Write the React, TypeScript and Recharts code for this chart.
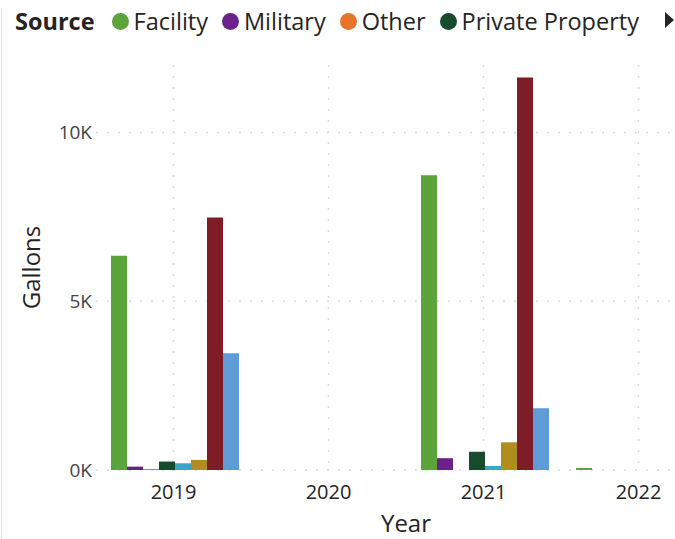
import { BarChart, Bar, XAxis, YAxis, CartesianGrid, Label } from "recharts";

const years = ["2019", "2020", "2021", "2022"];

const sources = [
  "Facility",
  "Military",
  "Other",
  "Private Property",
  "Public Property",
  "Road",
  "Residential",
  "Vessel",
];

const colors = [
  "#5ba33b",
  "#6b208c",
  "#e8742a",
  "#164b2e",
  "#3aa6c6",
  "#b08d1f",
  "#7e1d27",
  "#5f9bd6",
];

const facility = [6350, null, 8730, 60];
const military = [100, null, 350, null];
const other = [30, null, null, null];
const privateProperty = [250, null, 540, null];
const publicProperty = [200, null, 120, null];
const road = [300, null, 820, null];
const residential = [7480, null, 11630, null];
const vessel = [3460, null, 1830, null];

const yTicks = [0, 5000, 10000];

const series = [facility, military, other, privateProperty, publicProperty, road, residential, vessel];

const data = years.map((year, i) => {
  const row: Record<string, string | number | null> = { year };
  sources.forEach((s, k) => {
    row[s] = series[k][i];
  });
  return row;
});

const font = "'Open Sans', sans-serif";

const LegendBar = () => (
  <div
    style={{
      position: "absolute",
      left: 15,
      top: 5,
      height: 32,
      display: "flex",
      alignItems: "center",
      fontFamily: font,
      fontSize: 23.5,
      color: "#252423",
      whiteSpace: "nowrap",
    }}
  >
    <span style={{ fontWeight: 700, marginRight: 17 }}>Source</span>
    {sources.slice(0, 4).map((s, i) => (
      <span key={s} style={{ display: "flex", alignItems: "center", marginRight: 14 }}>
        <span
          style={{
            width: 17,
            height: 17,
            borderRadius: 9,
            background: colors[i],
            marginRight: 5,
            display: "inline-block",
          }}
        />
        {s}
      </span>
    ))}
  </div>
);

const App = () => {
  return (
    <div
      style={{
        position: "absolute",
        left: 0,
        top: 0,
        width: 675,
        height: 539,
        overflow: "hidden",
        background: "#fff",
      }}
    >
      <div style={{ position: "absolute", left: 1, top: 8, width: 1, height: 531, background: "#e3e3e3" }} />
      <LegendBar />
      <svg style={{ position: "absolute", left: 665, top: 12 }} width={10} height={16}>
        <polygon points="0,0 9,8 0,16" fill="#252423" />
      </svg>
      <BarChart
        width={716}
        height={539}
        data={data}
        margin={{ top: 65, right: 0, bottom: 0, left: 0 }}
        barGap={0}
        barCategoryGap={15}
      >
        <CartesianGrid stroke="#d9dbe3" strokeDasharray="2 9" strokeWidth={1.5} syncWithTicks />
        <XAxis
          dataKey="year"
          axisLine={false}
          tickLine={false}
          tickSize={0}
          tickMargin={15}
          height={69}
          tick={{ fontFamily: font, fontSize: 20, fill: "#252423" }}
        >
          <Label
            value="Year"
            position="insideBottom"
            offset={7}
            style={{ fontFamily: font, fontSize: 24, fill: "#252423" }}
          />
        </XAxis>
        <YAxis
          width={96}
          domain={[0, 12000]}
          ticks={yTicks}
          axisLine={false}
          tickLine={false}
          tickSize={0}
          tickMargin={4}
          tickFormatter={(v: number) => `${v / 1000}K`}
          tick={{ fontFamily: font, fontSize: 19, fill: "#444" }}
        >
          <Label
            content={({ viewBox }: any) => {
              const cx = 30;
              const cy = viewBox.y + viewBox.height / 2;
              return (
                <text
                  x={cx}
                  y={cy}
                  transform={`rotate(-90 ${cx} ${cy})`}
                  textAnchor="middle"
                  dominantBaseline="central"
                  style={{ fontFamily: font, fontSize: 24, fill: "#252423" }}
                >
                  Gallons
                </text>
              );
            }}
          />
        </YAxis>
        {sources.map((s, i) => (
          <Bar key={s} dataKey={s} fill={colors[i]} isAnimationActive={false} />
        ))}
      </BarChart>
    </div>
  );
};

export default App;
